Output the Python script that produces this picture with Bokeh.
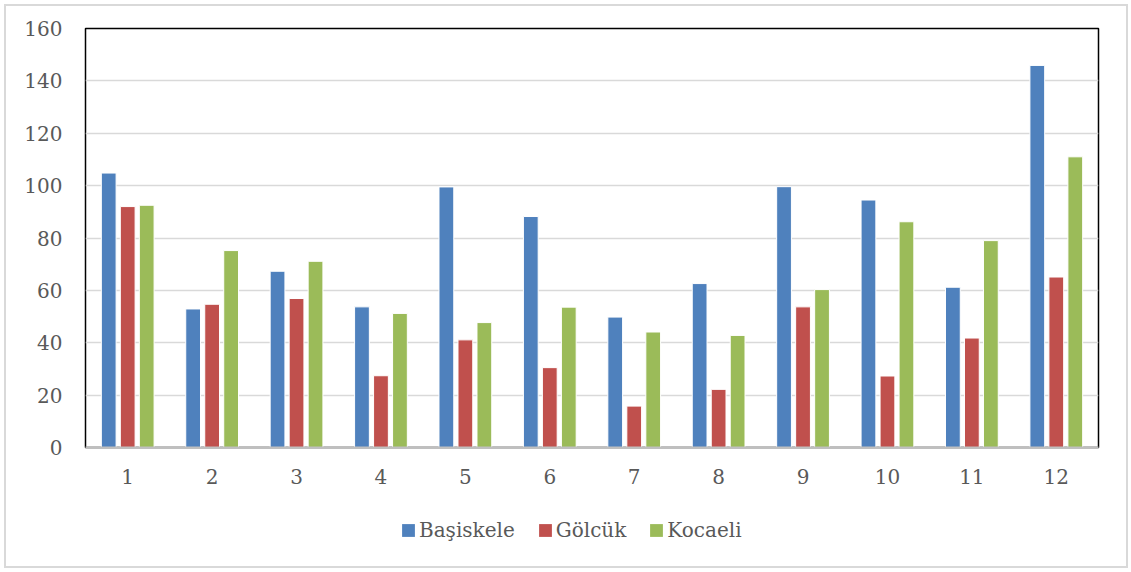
from bokeh.plotting import figure
from bokeh.layouts import column
from bokeh.models import ColumnDataSource, FactorRange, Range1d, Legend, LegendItem, FixedTicker
from bokeh.transform import dodge
from bokeh.embed import file_html
from bokeh.resources import INLINE

months = ["1", "2", "3", "4", "5", "6", "7", "8", "9", "10", "11", "12"]
basiskele = [104.8, 52.9, 67.3, 53.7, 99.5, 88.2, 49.8, 62.6, 99.6, 94.5, 61.2, 145.9]
golcuk = [92.0, 54.7, 56.9, 27.4, 41.1, 30.5, 15.8, 22.2, 53.7, 27.3, 41.8, 65.1]
kocaeli = [92.5, 75.2, 71.1, 51.2, 47.7, 53.6, 44.1, 42.8, 60.3, 86.2, 79.0, 111.0]
series_names = ["Başiskele", "Gölcük", "Kocaeli"]
colors = ["#4F81BD", "#C0504D", "#9BBB59"]
y_ticks = [0, 20, 40, 60, 80, 100, 120, 140, 160]

source = ColumnDataSource(dict(month=months, b=basiskele, g=golcuk, k=kocaeli))

FONT = "DejaVu Serif"
TXT = "#595959"
W = 1120
cols = ["b", "g", "k"]
offsets = [-0.225, 0.0, 0.225]

p = figure(
    x_range=FactorRange(*months, range_padding=0),
    y_range=Range1d(0, 160),
    width=W, height=494,
    output_backend="svg", toolbar_location=None,
    min_border_left=79, min_border_right=28, min_border_top=22, min_border_bottom=53,
)

for col, off, color in zip(cols, offsets, colors):
    p.vbar(x=dodge("month", off, range=p.x_range), top=col, width=0.175, source=source,
           fill_color=color, line_color="white", line_width=1)

p.outline_line_color = "black"
p.outline_line_width = 1.5
p.xgrid.grid_line_color = None
p.ygrid.grid_line_color = "#D9D9D9"
p.ygrid.grid_line_width = 1.5

p.yaxis.ticker = FixedTicker(ticks=y_ticks)
p.yaxis.axis_line_color = None
p.yaxis.major_tick_line_color = None
p.yaxis.minor_tick_line_color = None
p.yaxis.major_label_standoff = 17
p.yaxis.major_label_text_font = FONT
p.yaxis.major_label_text_font_size = "20px"
p.yaxis.major_label_text_color = TXT

p.xaxis.axis_line_color = "#BFBFBF"
p.xaxis.axis_line_width = 2
p.xaxis.major_tick_line_color = None
p.xaxis.minor_tick_line_color = None
p.xaxis.major_label_standoff = 15
p.xaxis.major_label_text_font = FONT
p.xaxis.major_label_text_font_size = "20px"
p.xaxis.major_label_text_color = TXT

# legend strip: same bars, kept out of this strip's visible y range
lf = figure(width=W, height=66, output_backend="svg", toolbar_location=None,
            min_border=0, x_range=FactorRange(*months), y_range=Range1d(1000, 1001),
            x_axis_type=None, y_axis_type=None)
lf.grid.visible = False
lf.outline_line_color = None
lrs = [lf.vbar(x="month", top=col, width=0.175, source=source, fill_color=c, line_color=None)
       for col, c in zip(cols, colors)]
legend = Legend(
    items=[LegendItem(label=n, renderers=[r]) for n, r in zip(series_names, lrs)],
    orientation="horizontal", location=(315, 24),
    label_text_font=FONT, label_text_font_size="20px", label_text_color=TXT,
    glyph_width=16, glyph_height=16, label_standoff=3, spacing=22,
    border_line_color=None, background_fill_alpha=0, margin=0, padding=0,
)
lf.add_layout(legend, "center")

layout = column(p, lf, spacing=0)
layout.styles = {"border": "2px solid #D9D9D9", "margin": "4px"}

open("out.html", "w").write(file_html(layout, INLINE))
